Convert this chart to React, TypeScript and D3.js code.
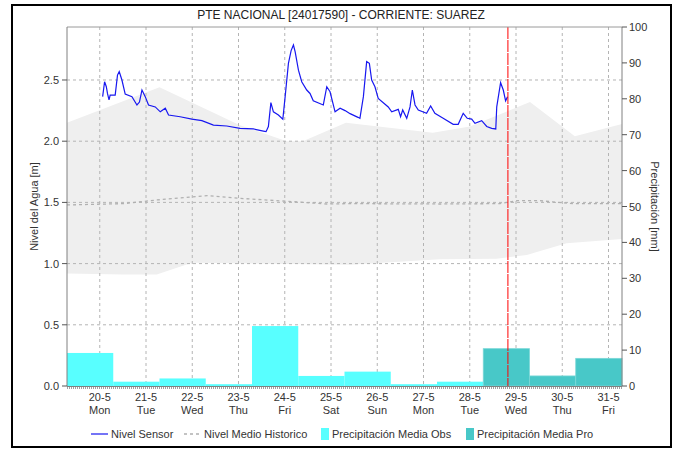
import React from 'react';
import * as d3 from 'd3';

// Sensor readings: hours since 20-5 00:00 and water level [m]
const sensorHours = [18.5, 19.5, 20.4, 21.0, 21.8, 22.4, 25.0, 26.2, 27.1, 28.5, 30.2, 33.7, 36.3, 37.6, 38.9, 40.6, 42.3, 45.8, 48.4, 51.0, 52.7, 58.7, 64.8, 70.0, 76.0, 82.9, 89.8, 96.7, 101.9, 103.3, 104.5, 105.8, 107.1, 109.7, 112.0, 113.2, 114.9, 116.3, 117.5, 118.4, 120.1, 121.8, 124.4, 126.1, 127.8, 133.0, 134.8, 136.5, 139.1, 141.7, 144.3, 146.9, 151.0, 152.0, 153.8, 155.5, 156.9, 158.1, 159.8, 161.5, 166.7, 168.5, 171.9, 173.1, 174.2, 176.3, 178.0, 179.2, 180.6, 182.3, 186.6, 188.7, 190.9, 195.2, 200.4, 203.0, 205.6, 207.7, 210.0, 211.7, 215.2, 217.8, 220.4, 222.5, 223.0, 225.0, 226.4, 227.6, 228.6];
const sensorLevel = [2.364, 2.486, 2.445, 2.39, 2.337, 2.377, 2.377, 2.54, 2.568, 2.5, 2.385, 2.364, 2.296, 2.32, 2.418, 2.364, 2.296, 2.28, 2.24, 2.27, 2.214, 2.2, 2.18, 2.168, 2.132, 2.124, 2.105, 2.1, 2.083, 2.078, 2.12, 2.315, 2.24, 2.214, 2.18, 2.364, 2.636, 2.74, 2.786, 2.73, 2.58, 2.486, 2.418, 2.39, 2.33, 2.296, 2.445, 2.404, 2.24, 2.27, 2.25, 2.225, 2.195, 2.187, 2.364, 2.65, 2.636, 2.5, 2.445, 2.35, 2.28, 2.24, 2.26, 2.2, 2.255, 2.187, 2.28, 2.418, 2.296, 2.255, 2.228, 2.288, 2.228, 2.187, 2.138, 2.138, 2.228, 2.187, 2.18, 2.146, 2.168, 2.12, 2.105, 2.1, 2.28, 2.478, 2.418, 2.33, 2.364];

// Historic band (days since 20-5 00:00)
const bandTopDays = [0, 2, 3.74, 4.75, 5.1, 6.03, 7.91, 8.71, 10.01, 10.98, 12];
const bandTopLevel = [2.15, 2.44, 2.13, 2.0, 2.0, 2.15, 2.07, 2.12, 2.32, 2.04, 2.14];
const bandLowDays = [0, 1.22, 1.94, 2.7, 6.12, 8.06, 9.29, 9.94, 10.8, 12];
const bandLowLevel = [0.92, 0.91, 0.91, 1.007, 0.99, 1.035, 1.04, 1.07, 1.166, 1.2];

// Historic mean level
const meanDays = [0, 1.22, 1.95, 3.03, 3.74, 4.89, 5.62, 6.12, 8.06, 9.36, 9.73, 10.22, 10.94, 12];
const meanLevel = [1.479, 1.49, 1.52, 1.555, 1.533, 1.506, 1.487, 1.49, 1.487, 1.49, 1.514, 1.514, 1.49, 1.49];

// Daily precipitation [mm]
const dayLabels = ['20-5', '21-5', '22-5', '23-5', '24-5', '25-5', '26-5', '27-5', '28-5', '29-5', '30-5', '31-5'];
const weekdayLabels = ['Mon', 'Tue', 'Wed', 'Thu', 'Fri', 'Sat', 'Sun', 'Mon', 'Tue', 'Wed', 'Thu', 'Fri'];
const precipObs = [9.2, 1.2, 2.1, 0.5, 16.7, 2.8, 4.0, 0.5, 1.2];
const precipPro = [10.4, 2.8, 7.7];

const levelTicks = [0, 0.5, 1.0, 1.5, 2.0, 2.5];
const precipTicks = [0, 10, 20, 30, 40, 50, 60, 70, 80, 90, 100];

const nowHours = 228.8;

const FONT = "'Liberation Sans', Arial, sans-serif";

const App = () => {
  const width = 679, height = 449;
  const margin = { top: 27, right: 57, bottom: 63, left: 67 };
  const x0 = margin.left, x1 = width - margin.right;
  const y0 = height - margin.bottom, y1 = margin.top;

  const start = new Date(2024, 4, 20);
  const end = new Date(2024, 5, 1);
  const atHours = (h: number) => new Date(start.getTime() + h * 3600e3);

  const x = d3.scaleTime().domain([start, end]).range([x0, x1]);
  const y = d3.scaleLinear().domain([0, 2.933]).range([y0, y1]);
  const yP = d3.scaleLinear().domain([0, 100]).range([y0, y1]);

  // band area built from top and bottom edges
  const topPts = bandTopDays.map((d, i) => [x(atHours(d * 24)), y(bandTopLevel[i])]);
  const lowPts = bandLowDays.map((d, i) => [x(atHours(d * 24)), y(bandLowLevel[i])]);
  const bandPath = 'M' + topPts.map(p => p.join(',')).join('L') + 'L' + lowPts.slice().reverse().map(p => p.join(',')).join('L') + 'Z';

  const line = d3.line<[number, number]>().x(d => d[0]).y(d => d[1]);
  const meanPath = line(meanDays.map((d, i) => [x(atHours(d * 24)), y(meanLevel[i])]));
  const sensorPath = line(sensorHours.map((h, i) => [x(atHours(h)), y(sensorLevel[i])]));

  const tickDates = dayLabels.map((_, i) => atHours(i * 24 + 17));

  const bars = [
    ...precipObs.map((v, i) => ({ day: i, v, pro: false })),
    ...precipPro.map((v, i) => ({ day: precipObs.length + i, v, pro: true })),
  ];

  const legendY = 438;

  return (
    <svg width={width} height={height} style={{ position: 'absolute', left: 0, top: 0 }} fontFamily={FONT}>
      <rect x={0} y={0} width={width} height={height} fill="#fff" />
      <rect x={12} y={5} width={659} height={442} fill="none" stroke="#000" strokeWidth={2} />

      <text x={341} y={19} textAnchor="middle" fontSize={12} fill="#222">PTE NACIONAL [24017590] - CORRIENTE: SUAREZ</text>

      {/* historic band */}
      <path d={bandPath} fill="#efefef" />

      {/* grid */}
      {levelTicks.filter(t => t > 0).map(t => (
        <line key={'h' + t} x1={x0} x2={x1} y1={y(t)} y2={y(t)} stroke="#b4b4b4" strokeDasharray="3,3" />
      ))}
      {tickDates.map((d, i) => (
        <line key={'v' + i} x1={x(d)} x2={x(d)} y1={y1} y2={y0} stroke="#b4b4b4" strokeDasharray="3,3" />
      ))}

      {/* historic mean */}
      <path d={meanPath ?? ''} fill="none" stroke="#b0b0b0" strokeWidth={1.3} strokeDasharray="3,3" />

      {/* precipitation bars */}
      {bars.map(b => {
        const xa = x(atHours(b.day * 24)), xb = x(atHours(b.day * 24 + 24));
        return (
          <rect key={b.day} x={xa} y={yP(b.v)} width={xb - xa} height={y0 - yP(b.v)}
            fill={b.pro ? '#48c8c8' : '#58ffff'} stroke={b.pro ? '#7ad8d8' : 'none'} strokeWidth={0.8} />
        );
      })}

      {/* sensor */}
      <path d={sensorPath ?? ''} fill="none" stroke="#1818f0" strokeWidth={1.2} />

      {/* now */}
      <line x1={x(atHours(nowHours))} x2={x(atHours(nowHours))} y1={y1} y2={y0} stroke="#ff0000" strokeWidth={1} strokeDasharray="12,1" />

      {/* frame / axes */}
      <line x1={x0} x2={x1} y1={y1} y2={y1} stroke="#9a9a9a" />
      <line x1={x0} x2={x0} y1={y1} y2={y0} stroke="#808080" />
      <line x1={x1} x2={x1} y1={y1} y2={y0} stroke="#808080" />
      <line x1={x0} x2={x1} y1={y0 + 0.5} y2={y0 + 0.5} stroke="#808080" />
      <line x1={x0} x2={x1} y1={y0 + 2} y2={y0 + 2} stroke="#444" strokeDasharray="1,1" />

      {levelTicks.map(t => (
        <g key={'l' + t}>
          <line x1={x0 - 5} x2={x0} y1={y(t)} y2={y(t)} stroke="#555" />
          <text x={x0 - 8} y={y(t) + 4} textAnchor="end" fontSize={11} fill="#333">{t.toFixed(1)}</text>
        </g>
      ))}
      {precipTicks.map(t => (
        <g key={'r' + t}>
          <line x1={x1} x2={x1 + 5} y1={yP(t)} y2={yP(t)} stroke="#555" />
          <text x={x1 + 7} y={yP(t) + 4} fontSize={11} fill="#333">{t}</text>
        </g>
      ))}
      {tickDates.map((d, i) => (
        <g key={'x' + i}>
          <text x={x(d)} y={401} textAnchor="middle" fontSize={11} fill="#333">{dayLabels[i]}</text>
          <text x={x(d)} y={414} textAnchor="middle" fontSize={11} fill="#333">{weekdayLabels[i]}</text>
        </g>
      ))}

      <text transform={`translate(38,${(y0 + y1) / 2}) rotate(-90)`} textAnchor="middle" fontSize={11} fill="#333">Nivel del Agua [m]</text>
      <text transform={`translate(651,${(y0 + y1) / 2}) rotate(90)`} textAnchor="middle" fontSize={11} fill="#333">Precipitación [mm]</text>

      {/* legend */}
      <line x1={91} x2={108} y1={legendY - 4} y2={legendY - 4} stroke="#1818f0" strokeWidth={1.2} />
      <text x={111} y={legendY} fontSize={11} fill="#333">Nivel Sensor</text>
      <line x1={184} x2={201} y1={legendY - 4} y2={legendY - 4} stroke="#b0b0b0" strokeWidth={1.3} strokeDasharray="3,3" />
      <text x={204} y={legendY} fontSize={11} fill="#333">Nivel Medio Historico</text>
      <rect x={321} y={legendY - 10} width={8} height={12} fill="#58ffff" />
      <text x={332} y={legendY} fontSize={11} fill="#333">Precipitación Media Obs</text>
      <rect x={466} y={legendY - 10} width={8} height={12} fill="#48c8c8" />
      <text x={477} y={legendY} fontSize={11} fill="#333">Precipitación Media Pro</text>
    </svg>
  );
};

export default App;
